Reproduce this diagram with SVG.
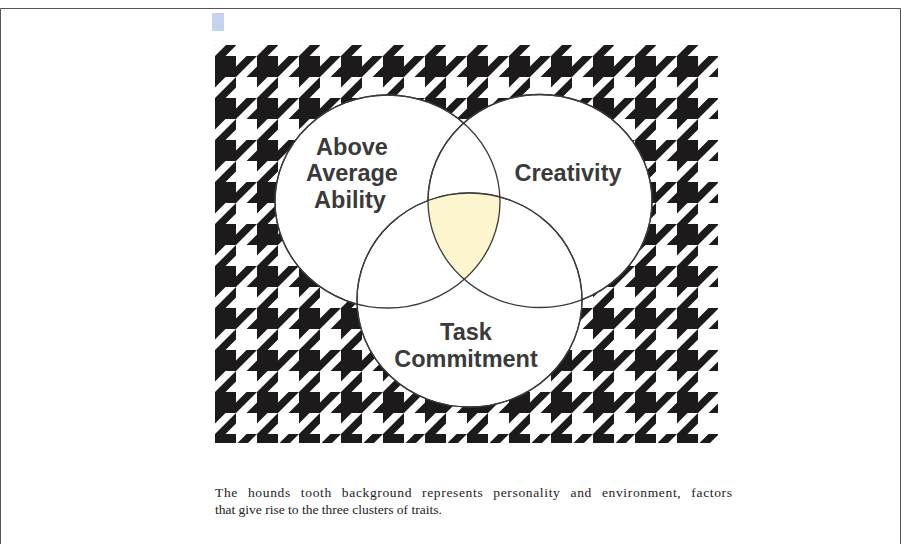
<svg xmlns="http://www.w3.org/2000/svg" width="901" height="544" viewBox="0 0 901 544">
  <style>
    .ring { fill: #ffffff; stroke: #3a3a3a; stroke-width: 1.3; }
    .label { font-family: "Liberation Sans", Arial, sans-serif; font-weight: bold; font-size: 23.5px; fill: #3a3a3a; text-anchor: middle; }
    .caption { font-family: "Liberation Serif", "Times New Roman", serif; font-size: 13.5px; fill: #222222; }
  </style>
  <defs>
    <!-- one houndstooth repeat: 8x8 units, 5.25px per unit -->
    <pattern id="hound" patternUnits="userSpaceOnUse" x="215" y="14" width="42" height="42">
      <path transform="scale(5.25)" fill="#1c1a1a"
        d="M0,0 H4 V2 L6,0 H8 L4,4 H2 L0,6 Z M6,4 L8,2 V4 Z M4,4 V6 L2,8 H0 Z"/>
    </pattern>
    <clipPath id="clipA"><ellipse cx="387.5" cy="201.5" rx="112.5" ry="106.5"/></clipPath>
    <clipPath id="clipB"><ellipse cx="540" cy="201" rx="112" ry="106.5"/></clipPath>
  </defs>

  <!-- page frame -->
  <path d="M0.5,544 V8.5 H900.5 V544" fill="none" stroke="#555555" stroke-width="1"/>
  <rect x="212" y="13" width="12" height="18" fill="#c5d3ec"/>

  <!-- houndstooth background -->
  <g id="background">
    <rect x="215" y="45" width="503" height="398" fill="url(#hound)"/>
  </g>

  <!-- three overlapping trait clusters -->
  <g id="ability"><ellipse class="ring" cx="387.5" cy="201.5" rx="112.5" ry="106.5"/></g>
  <g id="creativity"><ellipse class="ring" cx="540" cy="201" rx="112" ry="106.5"/></g>
  <g id="commitment"><ellipse class="ring" cx="469.5" cy="300" rx="112.5" ry="107"/></g>

  <!-- shared centre of all three rings -->
  <g id="overlap">
    <g clip-path="url(#clipA)"><g clip-path="url(#clipB)">
      <ellipse cx="469.5" cy="300" rx="112.5" ry="107" fill="#fdf5cd"/>
    </g></g>
  </g>
  <!-- ring outlines drawn on top so every arc stays visible -->
  <g id="outlines" fill="none" stroke="#3a3a3a" stroke-width="1.3">
    <ellipse cx="387.5" cy="201.5" rx="112.5" ry="106.5"/>
    <ellipse cx="540" cy="201" rx="112" ry="106.5"/>
    <ellipse cx="469.5" cy="300" rx="112.5" ry="107"/>
  </g>

  <g id="labels">
    <text class="label" x="352" y="155">Above</text>
    <text class="label" x="352" y="181">Average</text>
    <text class="label" x="350" y="208">Ability</text>
    <text class="label" x="568" y="181">Creativity</text>
    <text class="label" x="466" y="340">Task</text>
    <text class="label" x="466" y="367">Commitment</text>
  </g>

  <!-- justified caption: first line set to the full measure -->
  <g id="caption">
    <text class="caption" x="215" y="497" style="word-spacing:6px" textLength="517" lengthAdjust="spacing">The hounds tooth background represents personality and environment, factors</text>
    <text class="caption" x="215" y="514">that give rise to the three clusters of traits.</text>
  </g>
</svg>
